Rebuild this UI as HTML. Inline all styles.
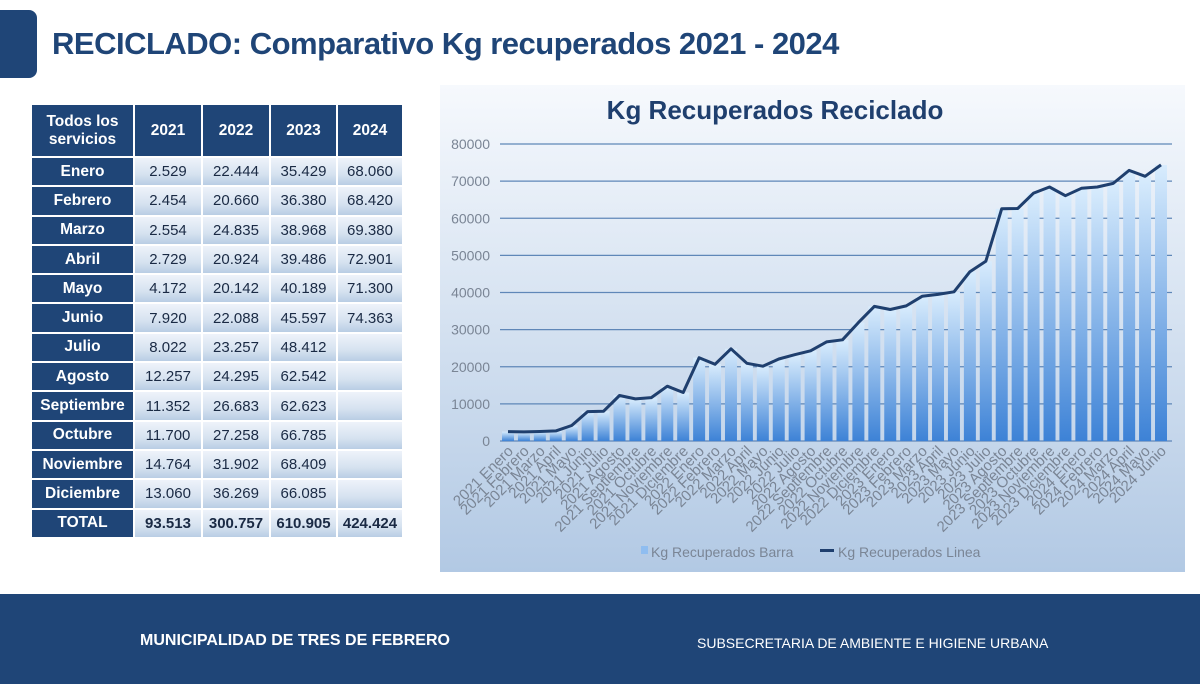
<!DOCTYPE html>
<html><head><meta charset="utf-8"><style>
body{margin:0;width:1200px;height:684px;background:#fff;position:relative;overflow:hidden;font-family:"Liberation Sans",sans-serif}
.tab{position:absolute;left:0;top:10px;width:37px;height:68px;background:#1f4577;border-radius:0 8px 8px 0}
.title{position:absolute;left:52px;top:26px;font-size:31px;font-weight:bold;color:#1f4577;letter-spacing:-0.5px}
table{position:absolute;left:30px;top:103px;border-collapse:collapse;font-size:15px}
td{border:2px solid #fff;height:27.3px;padding:0;text-align:center;color:#1a2a44;background:linear-gradient(#eef3fa,#d6e2f0 60%,#b9cde4)}
td.h{background:#1f4577;color:#fff;font-weight:bold;font-size:15.5px}
tr.hd td{height:51px}
tr.tot td{font-weight:bold}
.foot{position:absolute;left:0;top:594px;width:1200px;height:90px;background:#1f4577;color:#fff;font-size:15px}
</style></head><body>
<div class="tab"></div>
<div class="title">RECICLADO: Comparativo Kg recuperados 2021 - 2024</div>
<table>
<tr class="hd"><td class="h" style="width:101px">Todos los<br>servicios</td><td class="h" style="width:66px">2021</td><td class="h" style="width:66px">2022</td><td class="h" style="width:65px">2023</td><td class="h" style="width:64px">2024</td></tr>
<tr><td class="h">Enero</td><td>2.529</td><td>22.444</td><td>35.429</td><td>68.060</td></tr>
<tr><td class="h">Febrero</td><td>2.454</td><td>20.660</td><td>36.380</td><td>68.420</td></tr>
<tr><td class="h">Marzo</td><td>2.554</td><td>24.835</td><td>38.968</td><td>69.380</td></tr>
<tr><td class="h">Abril</td><td>2.729</td><td>20.924</td><td>39.486</td><td>72.901</td></tr>
<tr><td class="h">Mayo</td><td>4.172</td><td>20.142</td><td>40.189</td><td>71.300</td></tr>
<tr><td class="h">Junio</td><td>7.920</td><td>22.088</td><td>45.597</td><td>74.363</td></tr>
<tr><td class="h">Julio</td><td>8.022</td><td>23.257</td><td>48.412</td><td></td></tr>
<tr><td class="h">Agosto</td><td>12.257</td><td>24.295</td><td>62.542</td><td></td></tr>
<tr><td class="h">Septiembre</td><td>11.352</td><td>26.683</td><td>62.623</td><td></td></tr>
<tr><td class="h">Octubre</td><td>11.700</td><td>27.258</td><td>66.785</td><td></td></tr>
<tr><td class="h">Noviembre</td><td>14.764</td><td>31.902</td><td>68.409</td><td></td></tr>
<tr><td class="h">Diciembre</td><td>13.060</td><td>36.269</td><td>66.085</td><td></td></tr>
<tr class="tot"><td class="h">TOTAL</td><td>93.513</td><td>300.757</td><td>610.905</td><td>424.424</td></tr>
</table>
<svg id="ch" style="position:absolute;left:440px;top:85px" width="745" height="487" viewBox="440 85 745 487">
<defs>
<linearGradient id="bg" x1="0" y1="0" x2="0" y2="1"><stop offset="0" stop-color="#f6f9fd"/><stop offset="1" stop-color="#b2c9e4"/></linearGradient>
<linearGradient id="bar" x1="0" y1="0" x2="0" y2="1"><stop offset="0" stop-color="#d8ecfd"/><stop offset="1" stop-color="#3d82d6"/></linearGradient>
</defs>
<rect x="440" y="85" width="745" height="487" fill="url(#bg)"/>
<text x="775" y="119" text-anchor="middle" font-size="26" font-weight="bold" fill="#1f3f6e">Kg Recuperados Reciclado</text>
<g id="g"></g>
<rect x="641" y="546" width="7" height="8" fill="#8fbdf0"/>
<text x="651" y="557" font-size="14" fill="#7a8595">Kg Recuperados Barra</text>
<rect x="820" y="549" width="14" height="3" fill="#1f3f6e"/>
<text x="838" y="557" font-size="14" fill="#7a8595">Kg Recuperados Linea</text>
</svg>
<div class="foot"><div style="position:absolute;left:140px;top:38px;font-weight:bold;font-size:16px">MUNICIPALIDAD DE TRES DE FEBRERO</div><div style="position:absolute;left:697px;top:41px;font-size:14px">SUBSECRETARIA DE AMBIENTE E HIGIENE URBANA</div></div>
<script>
var d=[2529,2454,2554,2729,4172,7920,8022,12257,11352,11700,14764,13060,22444,20660,24835,20924,20142,22088,23257,24295,26683,27258,31902,36269,35429,36380,38968,39486,40189,45597,48412,62542,62623,66785,68409,66085,68060,68420,69380,72901,71300,74363];
var m=["Enero","Febrero","Marzo","April","Mayo","Junio","Julio","Agosto","Septiembre","Octubre","Noviembre","Diciembre"];
var s="",y0=441,k=297/80000,x0=508,dx=(1161-508)/41;
for(var i=0;i<=8;i++){var y=y0-i*10000*k;s+='<line x1="500" x2="1172" y1="'+y+'" y2="'+y+'" stroke="#5f87b8" stroke-width="1.2"/><text x="490" y="'+(y+5)+'" text-anchor="end" font-size="14" fill="#7a8595">'+(i*10000)+'</text>';}
var p=[];
for(var i=0;i<42;i++){var x=x0+i*dx,y=y0-d[i]*k;s+='<rect x="'+(x-6)+'" y="'+y+'" width="12" height="'+(y0-y)+'" fill="url(#bar)"/>';p.push(x.toFixed(1)+","+y.toFixed(1));
var lab=(2021+Math.floor(i/12))+" "+m[i%12];s+='<text transform="translate('+(x+6)+',452) rotate(-45)" text-anchor="end" font-size="15" fill="#7a8595">'+lab+'</text>';}
s+='<polyline points="'+p.join(" ")+'" fill="none" stroke="#1f3f6e" stroke-width="3" stroke-linejoin="round"/>';
document.getElementById("g").innerHTML=s;
</script>
</body></html>
